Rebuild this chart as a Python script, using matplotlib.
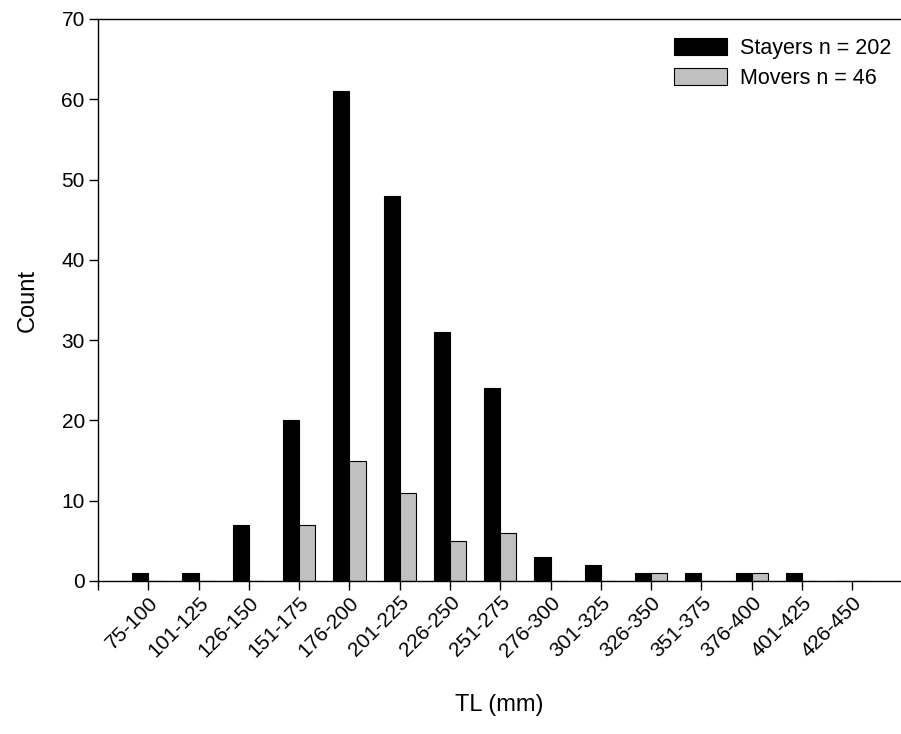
import numpy as np
import matplotlib
matplotlib.use('Agg')
import matplotlib.pyplot as plt

plt.rcParams['font.family'] = ['Liberation Sans', 'DejaVu Sans']

# size classes (TL, mm)
bins = ['75-100', '101-125', '126-150', '151-175', '176-200', '201-225', '226-250',
        '251-275', '276-300', '301-325', '326-350', '351-375', '376-400', '401-425', '426-450']
stayers = [1, 1, 7, 20, 61, 48, 31, 24, 3, 2, 1, 1, 1, 1, 0]
movers = [0, 0, 0, 7, 15, 11, 5, 6, 0, 0, 1, 0, 1, 0, 0]

W, H = 901, 734
fig = plt.figure(figsize=(W/100, H/100), dpi=100)
ax = fig.add_axes([98/W, 1-581/H, (900-98)/W, (581-19)/H])

x = np.arange(len(bins))
bw = 0.32
ax.bar(x - bw/2, stayers, bw, color='black', edgecolor='black', linewidth=0.8,
       label='Stayers n = 202')
ax.bar(x + bw/2, movers, bw, color='#c0c0c0', edgecolor='black', linewidth=0.8,
       label='Movers n = 46')

ax.set_xlim(-1, 14.95)
ax.set_ylim(0, 70)
ax.set_yticks(range(0, 71, 10))
ax.set_xticks(np.arange(-1, len(bins)))
ax.set_xticklabels([''] + bins, rotation=45, ha='right', va='top', rotation_mode='anchor')

ax.spines['right'].set_visible(False)
for s in ['left', 'bottom', 'top']:
    ax.spines[s].set_linewidth(1.0)
ax.tick_params(axis='both', direction='out', length=6.5, width=1.0, labelsize=15)
ax.tick_params(axis='x', pad=2)
ax.tick_params(axis='y', pad=3)

ax.set_ylabel('Count', fontsize=17, labelpad=16)
ax.set_xlabel('TL (mm)', fontsize=17, labelpad=24)

ax.legend(loc='upper right', bbox_to_anchor=(891/W, 1-38/H), bbox_transform=fig.transFigure,
          frameon=False, fontsize=15.5, handlelength=2.45, handleheight=0.8,
          handletextpad=0.6, labelspacing=0.42, borderpad=0, borderaxespad=0)

fig.savefig('out.png', dpi=100)
